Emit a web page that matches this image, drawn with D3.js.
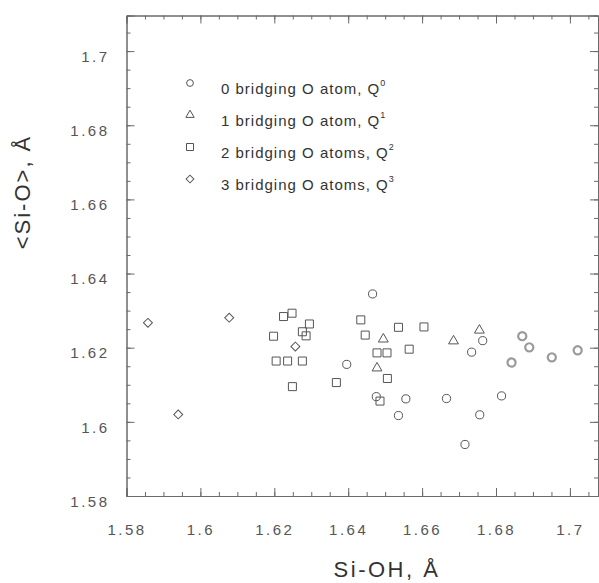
<!DOCTYPE html>
<html>
<head>
<meta charset="utf-8">
<script src="https://cdn.jsdelivr.net/npm/d3@7"></script>
<style>
  body { margin: 0; background: #fff; }
  text { font-family: 'Liberation Sans', Arial, sans-serif; }
</style>
</head>
<body>
<svg id="chart" width="599" height="583"></svg>
<script>
'use strict';

// axis ticks
var xTicks = [1.58, 1.6, 1.62, 1.64, 1.66, 1.68, 1.7];
var yTicks = [1.58, 1.6, 1.62, 1.64, 1.66, 1.68, 1.7];

// [Si-OH, <Si-O>] pairs
var q0Points = [
  [1.6466, 1.6345], [1.6764, 1.6219], [1.6734, 1.6188], [1.6396, 1.6155],
  [1.6476, 1.6068], [1.6556, 1.6062], [1.6666, 1.6063], [1.6815, 1.6070],
  [1.6536, 1.6017], [1.6756, 1.6019], [1.6716, 1.5939]
];
var q0GrayPoints = [
  [1.6871, 1.6231], [1.6890, 1.6201], [1.6842, 1.6160], [1.6951, 1.6174], [1.7021, 1.6193]
];
var q1Points = [
  [1.6495, 1.6223], [1.6685, 1.6218], [1.6755, 1.6247], [1.6478, 1.6145]
];
var q2Points = [
  [1.6225, 1.6284], [1.6248, 1.6293], [1.6295, 1.6264], [1.6276, 1.6243],
  [1.6286, 1.6232], [1.6198, 1.6231], [1.6205, 1.6164], [1.6236, 1.6164],
  [1.6276, 1.6164], [1.6249, 1.6095], [1.6434, 1.6275], [1.6446, 1.6234],
  [1.6536, 1.6255], [1.6605, 1.6256], [1.6478, 1.6186], [1.6505, 1.6186],
  [1.6565, 1.6196], [1.6368, 1.6106], [1.6506, 1.6117], [1.6486, 1.6056]
];
var q3Points = [
  [1.5858, 1.6267], [1.6078, 1.6281], [1.6257, 1.6203], [1.5940, 1.6020]
];

var legendLabels = ['0 bridging O atom, Q', '1 bridging O atom, Q', '2 bridging O atoms, Q', '3 bridging O atoms, Q'];
var legendSups = ['0', '1', '2', '3'];

var svg = d3.select('#chart');

var x = d3.scaleLinear().domain([1.58, 1.7076]).range([126.5, 598]);
var y = d3.scaleLinear().domain([1.58, 1.7096]).range([496, 15.5]);

var minorX = d3.range(0, 26).map(i => 1.58 + i * 0.005);
var minorY = d3.range(0, 26).map(i => 1.58 + i * 0.005);
var fmt = d => String(+d.toFixed(2));

var axisColor = '#6a6a6a';

function styleAxis(g) {
  g.select('.domain').attr('stroke', axisColor);
  g.selectAll('.tick line').attr('stroke', axisColor);
  g.selectAll('.tick text')
    .attr('fill', '#555')
    .style('font-size', '15px')
    .style('letter-spacing', '2.5px');
}

// bottom
svg.append('g').attr('transform', 'translate(0,496)')
  .call(d3.axisBottom(x).tickValues(minorX).tickSize(-4).tickFormat(''))
  .call(styleAxis);
svg.append('g').attr('transform', 'translate(0,496)')
  .call(d3.axisBottom(x).tickValues(xTicks).tickSize(-8).tickPadding(28).tickFormat(fmt))
  .call(styleAxis);

// top
svg.append('g').attr('transform', 'translate(0,15.5)')
  .call(d3.axisTop(x).tickValues(minorX).tickSize(-4).tickFormat(''))
  .call(styleAxis);
svg.append('g').attr('transform', 'translate(0,15.5)')
  .call(d3.axisTop(x).tickValues(xTicks).tickSize(-8).tickFormat(''))
  .call(styleAxis);

// left
svg.append('g').attr('transform', 'translate(126.5,0)')
  .call(d3.axisLeft(y).tickValues(minorY).tickSize(-4).tickFormat(''))
  .call(styleAxis);
var yAxis = svg.append('g').attr('transform', 'translate(126.5,0)')
  .call(d3.axisLeft(y).tickValues(yTicks).tickSize(-8).tickPadding(17).tickFormat(fmt))
  .call(styleAxis);
yAxis.selectAll('.tick text').attr('dy', '0.68em');

// right
svg.append('g').attr('transform', 'translate(598,0)')
  .call(d3.axisRight(y).tickValues(minorY).tickSize(-4).tickFormat(''))
  .call(styleAxis);
svg.append('g').attr('transform', 'translate(598,0)')
  .call(d3.axisRight(y).tickValues(yTicks).tickSize(-8).tickFormat(''))
  .call(styleAxis);

// axis titles
svg.append('text')
  .attr('x', 387)
  .attr('y', 577)
  .attr('text-anchor', 'middle')
  .attr('fill', '#333')
  .style('font-size', '22px')
  .style('letter-spacing', '2.5px')
  .text('Si-OH, Å');

svg.append('text')
  .attr('transform', 'translate(30,192)rotate(-90)')
  .attr('text-anchor', 'middle')
  .attr('fill', '#333')
  .style('font-size', '22px')
  .style('letter-spacing', '2px')
  .text('<Si-O>, Å');

// markers
var markerColor = '#555';
var symCircle = d3.symbol(d3.symbolCircle, 52);
var symTriangle = d3.symbol(d3.symbolTriangle, 42);
var symSquare = d3.symbol(d3.symbolSquare, 64);
var symDiamond = d3.symbol(d3.symbolSquare, 40);

function drawSeries(data, sym, rot, stroke, width) {
  svg.append('g').selectAll('path')
    .data(data)
    .enter()
    .append('path')
    .attr('d', sym)
    .attr('transform', d => 'translate(' + x(d[0]) + ',' + y(d[1]) + ')' + (rot ? 'rotate(' + rot + ')' : ''))
    .attr('fill', 'none')
    .attr('stroke', stroke)
    .attr('stroke-width', width);
}

drawSeries(q3Points, symDiamond, 45, markerColor, 1);
drawSeries(q2Points, symSquare, 0, markerColor, 1);
drawSeries(q1Points, symTriangle, 0, markerColor, 1);
drawSeries(q0Points, symCircle, 0, markerColor, 1);
drawSeries(q0GrayPoints, symCircle, 0, '#9a9a9a', 2.2);

// legend
var legendSyms = [
  d3.symbol(d3.symbolCircle, 36),
  d3.symbol(d3.symbolTriangle, 30),
  d3.symbol(d3.symbolSquare, 49),
  d3.symbol(d3.symbolSquare, 30)
];
var legendRot = [0, 0, 0, 45];

var legend = svg.append('g').selectAll('g')
  .data(legendLabels)
  .enter()
  .append('g')
  .attr('transform', (d, i) => 'translate(0,' + (i * 32) + ')');

legend.append('path')
  .attr('d', (d, i) => legendSyms[i]())
  .attr('transform', (d, i) => 'translate(190,83)' + (legendRot[i] ? 'rotate(45)' : ''))
  .attr('fill', 'none')
  .attr('stroke', markerColor)
  .attr('stroke-width', 1);

var ltext = legend.append('text')
  .attr('x', 221)
  .attr('y', 94)
  .attr('fill', '#333')
  .style('font-size', '15px')
  .style('letter-spacing', '1px');
ltext.append('tspan').text(d => d);
ltext.append('tspan')
  .attr('dy', -8)
  .style('font-size', '9px')
  .style('letter-spacing', '0px')
  .text((d, i) => legendSups[i]);
</script>
</body>
</html>
